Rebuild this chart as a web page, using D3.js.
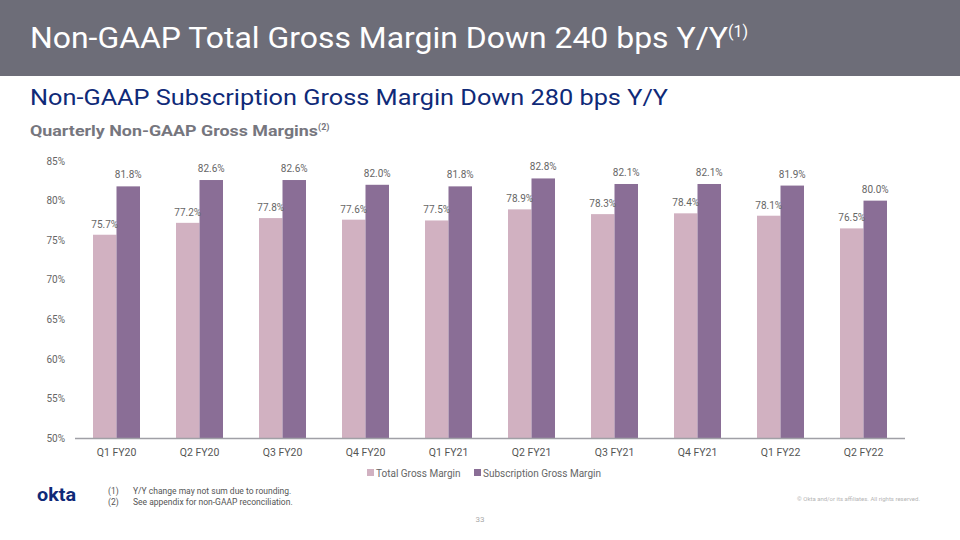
<!DOCTYPE html>
<html><head><meta charset="utf-8">
<script src="https://cdn.jsdelivr.net/npm/d3@7"></script>
<style>body{margin:0;background:#fff}svg{display:block}</style>
</head><body>
<svg id="c" width="960" height="540"></svg>
<script>
const categories = ["Q1 FY20","Q2 FY20","Q3 FY20","Q4 FY20","Q1 FY21","Q2 FY21","Q3 FY21","Q4 FY21","Q1 FY22","Q2 FY22"];
const totalGM = [75.7,77.2,77.8,77.6,77.5,78.9,78.3,78.4,78.1,76.5];
const subscriptionGM = [81.8,82.6,82.6,82.0,81.8,82.8,82.1,82.1,81.9,80.0];
const seriesNames = ["Total Gross Margin","Subscription Gross Margin"];
const yTicks = [50,55,60,65,70,75,80,85];
const colors = ["#d1b1c1","#8a6e96"];
const font = "Roboto, 'Liberation Sans', sans-serif";

const svg = d3.select("#c");
// header band
svg.append("rect").attr("x",0).attr("y",0).attr("width",960).attr("height",76).attr("fill","#6d6d78");
const t1 = svg.append("text").attr("x",30).attr("y",48).attr("fill","#fff")
  .style("font-family",font).style("font-size","29px");
t1.append("tspan").text("Non-GAAP Total Gross Margin Down 240 bps Y/Y").attr("textLength",698).attr("lengthAdjust","spacingAndGlyphs");
t1.append("tspan").text("(1)").attr("dy",-11).style("font-size","16px");

svg.append("text").attr("x",30).attr("y",105).attr("fill","#0f2a78")
  .style("font-family",font).style("font-size","22px")
  .attr("textLength",638).attr("lengthAdjust","spacingAndGlyphs")
  .text("Non-GAAP Subscription Gross Margin Down 280 bps Y/Y");

const t3 = svg.append("text").attr("x",30).attr("y",136).attr("fill","#76767e")
  .style("font-family",font).style("font-size","14px").style("font-weight","bold");
t3.append("tspan").text("Quarterly Non-GAAP Gross Margins").attr("textLength",288).attr("lengthAdjust","spacingAndGlyphs");
t3.append("tspan").text("(2)").attr("dy",-6).style("font-size","9px");

// scales
const x = d3.scaleBand().domain(categories).range([75,905]).paddingInner(0).paddingOuter(0);
const y = d3.scaleLinear().domain([50,85]).range([438.5,161]);
const barW = 23.5;

// y tick labels
svg.append("g").selectAll("text").data(yTicks).join("text")
  .attr("x",65).attr("y",d=>y(d)+3.5).attr("text-anchor","end")
  .attr("fill","#666").style("font-family",font).style("font-size","10px")
  .text(d=>d+"%");

// bars
const g = svg.append("g");
g.selectAll("rect.t").data(categories).join("rect").attr("class","t")
  .attr("x",(d)=>x(d)+x.bandwidth()/2-barW).attr("width",barW)
  .attr("y",(d,i)=>y(totalGM[i])).attr("height",(d,i)=>y(50)-y(totalGM[i]))
  .attr("fill",colors[0]);
g.selectAll("rect.s").data(categories).join("rect").attr("class","s")
  .attr("x",(d)=>x(d)+x.bandwidth()/2).attr("width",barW)
  .attr("y",(d,i)=>y(subscriptionGM[i])).attr("height",(d,i)=>y(50)-y(subscriptionGM[i]))
  .attr("fill",colors[1]);
// labels
g.selectAll("text.tl").data(categories).join("text").attr("class","tl")
  .attr("x",d=>x(d)+x.bandwidth()/2-barW/2).attr("y",(d,i)=>y(totalGM[i])-7)
  .attr("text-anchor","middle").attr("fill","#666").style("font-family",font).style("font-size","10px")
  .text((d,i)=>totalGM[i].toFixed(1)+"%");
g.selectAll("text.sl").data(categories).join("text").attr("class","sl")
  .attr("x",d=>x(d)+x.bandwidth()/2+barW/2).attr("y",(d,i)=>y(subscriptionGM[i])-8)
  .attr("text-anchor","middle").attr("fill","#666").style("font-family",font).style("font-size","10px")
  .text((d,i)=>subscriptionGM[i].toFixed(1)+"%");

// x axis
svg.append("line").attr("x1",75).attr("x2",905).attr("y1",y(50)).attr("y2",y(50))
  .attr("stroke","#a0a0a6").attr("stroke-width",1.5);
svg.append("g").selectAll("text").data(categories).join("text")
  .attr("x",d=>x(d)+x.bandwidth()/2).attr("y",456).attr("text-anchor","middle")
  .attr("fill","#555").style("font-family",font).style("font-size","10.5px").text(d=>d);

// legend
const lx = [367,474];
seriesNames.forEach((n,i)=>{
  svg.append("rect").attr("x",lx[i]).attr("y",469).attr("width",7).attr("height",7).attr("fill",colors[i]);
  svg.append("text").attr("x",lx[i]+9).attr("y",476.5).attr("fill","#666")
    .style("font-family",font).style("font-size","10px").text(n);
});

// footer
svg.append("text").attr("x",37).attr("y",501).attr("fill","#0f2a78")
  .style("font-family",font).style("font-size","18px").style("font-weight","bold")
  .attr("textLength",39).attr("lengthAdjust","spacingAndGlyphs").text("okta");
const notes = [["(1)","Y/Y change may not sum due to rounding."],["(2)","See appendix for non-GAAP reconciliation."]];
notes.forEach((n,i)=>{
  svg.append("text").attr("x",108).attr("y",494+i*11).attr("fill","#555")
    .style("font-family",font).style("font-size","8.5px").text(n[0]);
  svg.append("text").attr("x",133).attr("y",494+i*11).attr("fill","#555")
    .style("font-family",font).style("font-size","8.5px").text(n[1]);
});
svg.append("text").attr("x",480).attr("y",522).attr("text-anchor","middle").attr("fill","#aaa")
  .style("font-family",font).style("font-size","8px").text("33");
svg.append("text").attr("x",920).attr("y",501).attr("text-anchor","end").attr("fill","#b5b5b5")
  .style("font-family",font).style("font-size","6px").text("© Okta and/or its affiliates. All rights reserved.");
</script>
</body></html>
